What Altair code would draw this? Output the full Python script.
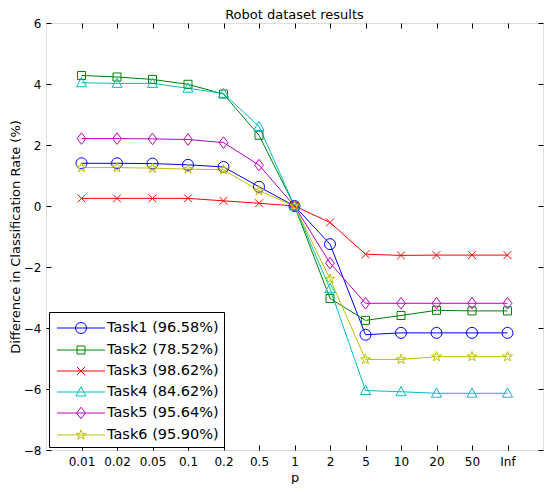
import altair as alt
import pandas as pd

p_labels = ["0.01", "0.02", "0.05", "0.1", "0.2", "0.5", "1", "2", "5", "10", "20", "50", "Inf"]
task_names = ["Task1 (96.58%)", "Task2 (78.52%)", "Task3 (98.62%)",
              "Task4 (84.62%)", "Task5 (95.64%)", "Task6 (95.90%)"]
task1 = [1.40, 1.40, 1.39, 1.35, 1.28, 0.63, 0.0, -1.25, -4.22, -4.16, -4.16, -4.16, -4.16]
task2 = [4.28, 4.23, 4.15, 3.99, 3.67, 2.32, 0.0, -3.03, -3.75, -3.59, -3.42, -3.44, -3.44]
task3 = [0.25, 0.25, 0.25, 0.25, 0.17, 0.09, 0.0, -0.54, -1.58, -1.62, -1.61, -1.61, -1.61]
task4 = [4.04, 4.02, 4.02, 3.86, 3.69, 2.61, 0.0, -2.71, -6.05, -6.09, -6.14, -6.14, -6.14]
task5 = [2.21, 2.21, 2.20, 2.18, 2.08, 1.34, 0.0, -1.87, -3.19, -3.19, -3.19, -3.19, -3.19]
task6 = [1.26, 1.26, 1.24, 1.21, 1.19, 0.50, 0.0, -2.39, -5.03, -5.03, -4.94, -4.94, -4.94]
series = [task1, task2, task3, task4, task5, task6]
colors = ["#0000ff", "#008000", "#ff0000", "#00bfbf", "#bf00bf", "#bfbf00"]
y_ticks = [-8, -6, -4, -2, 0, 2, 4, 6]

rows = []
for name, vals in zip(task_names, series):
    for i, (p, v) in enumerate(zip(p_labels, vals)):
        rows.append({"task": name, "p": p, "idx": i, "value": v})
df = pd.DataFrame(rows)

FONT = "DejaVu Sans"
W, H = 497, 427


def poly(pts, k=1.0):
    return "M" + "L".join(f"{x*k:.3f},{y*k:.3f}" for x, y in pts) + "Z"


def circ(r):
    return f"M{r:.3f},0A{r:.3f},{r:.3f} 0 1,1 {-r:.3f},0A{r:.3f},{r:.3f} 0 1,1 {r:.3f},0Z"


def xmark(k):
    a = 0.72 * k
    return f"M{-a:.3f},{-a:.3f}L{a:.3f},{a:.3f}M{-a:.3f},{a:.3f}L{a:.3f},{-a:.3f}"


square_pts = [(-0.73, -0.73), (0.73, -0.73), (0.73, 0.73), (-0.73, 0.73)]
tri_pts = [(0, -0.95), (0.92, 0.72), (-0.92, 0.72)]
dia_pts = [(0, -1.05), (0.8, 0), (0, 1.05), (-0.8, 0)]
star_pts = [(0, -0.95), (0.214, -0.294), (0.903, -0.294), (0.345, 0.112), (0.559, 0.769),
            (0, 0.363), (-0.559, 0.769), (-0.345, 0.112), (-0.903, -0.294), (-0.214, -0.294)]


def marker_paths(k):
    return [circ(k), poly(square_pts, k), xmark(k), poly(tri_pts, k), poly(dia_pts, k), poly(star_pts, k)]


point_shapes = marker_paths(1.0)
# legend symbols: line segment + marker (size 441 -> unit = 10.5px)
LK = 5.5 / 10.5
LL = 24 / 10.5
legend_shapes = [f"M{-LL:.3f},0L{LL:.3f},0" + m for m in marker_paths(LK)]

x_sort = p_labels
x_scale = alt.Scale(type="point", domain=p_labels, padding=1)
y_scale = alt.Scale(domain=[-8, 6], nice=False, zero=False)

base = alt.Chart(df)

lines = base.mark_line(strokeWidth=1).encode(
    x=alt.X("p:O", scale=x_scale, sort=x_sort,
            axis=alt.Axis(orient="bottom", title="p", labelAngle=0, tickSize=0, domain=False,
                          grid=False, labelPadding=6, labelFont=FONT, labelFontSize=12,
                          labelColor="black", titleFont=FONT, titleFontSize=13,
                          titleFontWeight="normal", titleColor="black",
                          titleBaseline="alphabetic", titleY=31, titleX=W / 2)),
    y=alt.Y("value:Q", scale=y_scale,
            axis=alt.Axis(orient="left", values=y_ticks, tickSize=0, domain=False, grid=False,
                          labelPadding=5, labelFont=FONT, labelFontSize=12, labelColor="black",
                          title="Difference in Classification Rate (%)", titleFont=FONT,
                          titleFontSize=13, titleFontWeight="normal", titleColor="black",
                          titleAngle=-90, titleBaseline="alphabetic", titleAlign="center",
                          titleX=-27, titleY=H / 2)),
    color=alt.Color("task:N", scale=alt.Scale(domain=task_names, range=colors), legend=None),
    order="idx:Q",
)

points = base.mark_point(filled=False, size=121, strokeWidth=1, opacity=1).encode(
    x=alt.X("p:O", scale=x_scale, sort=x_sort,
            axis=alt.Axis(orient="bottom", offset=-5, tickSize=5, labels=False, domain=False,
                          grid=False, title=None, tickColor="black")),
    y=alt.Y("value:Q", scale=y_scale,
            axis=alt.Axis(orient="left", offset=-5, tickSize=5, labels=False, domain=False,
                          grid=False, title=None, values=y_ticks, tickColor="black")),
    color=alt.Color("task:N", scale=alt.Scale(domain=task_names, range=colors), legend=None),
    shape=alt.Shape("task:N", scale=alt.Scale(domain=task_names, range=point_shapes), legend=None),
)

leg = dict(orient="none", legendX=3, legendY=289, title=None,
           fillColor="white", strokeColor="black", padding=5,
           symbolSize=441, symbolStrokeWidth=1, symbolOffset=16,
           labelOffset=15, labelFont=FONT, labelFontSize=14.5,
           labelColor="black", rowPadding=3)

legend_layer = base.transform_filter("datum.idx < 0").mark_point(
    filled=False, strokeWidth=1, opacity=1
).encode(
    x=alt.X("p:O", scale=x_scale, sort=x_sort,
            axis=alt.Axis(orient="top", offset=-5, tickSize=5, labels=False, domain=False,
                          grid=False, title=None, tickColor="black")),
    y=alt.Y("value:Q", scale=y_scale,
            axis=alt.Axis(orient="right", offset=-5, tickSize=5, labels=False, domain=False,
                          grid=False, title=None, values=y_ticks, tickColor="black")),
    color=alt.Color("task:N", scale=alt.Scale(domain=task_names, range=colors),
                    legend=alt.Legend(**leg)),
    shape=alt.Shape("task:N", scale=alt.Scale(domain=task_names, range=legend_shapes),
                    legend=alt.Legend(**leg)),
)

chart = alt.layer(lines, points, legend_layer).resolve_scale(
    color="independent", shape="independent"
).resolve_axis(
    x="independent", y="independent"
).properties(
    width=W,
    height=H,
    title=alt.TitleParams("Robot dataset results", font=FONT, fontSize=13, fontWeight="normal",
                          color="black", frame="group", baseline="alphabetic", offset=-10,
                          dy=5),
    autosize=alt.AutoSizeParams(type="none"),
    padding={"left": 38, "top": 15, "right": 1, "bottom": 34},
).configure_view(
    stroke="black", strokeWidth=1
).configure(background="white")

chart.save("out.html", embed_options={"renderer": "svg", "actions": False})
